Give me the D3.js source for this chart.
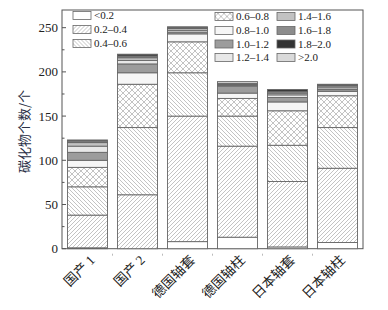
<!DOCTYPE html>
<html>
<head>
<meta charset="utf-8">
<script src="https://cdn.jsdelivr.net/npm/d3@7"></script>
<style>
  body { margin: 0; background: #fff; }
  svg { display: block; }
</style>
</head>
<body>
<svg id="chart" width="388" height="310"></svg>
<script>
// categories (bearing samples)
const categories = ["国产 1", "国产 2", "德国轴套", "德国轴柱", "日本轴套", "日本轴柱"];
// carbide size bins
const bins = ["<0.2", "0.2\u20130.4", "0.4\u20130.6", "0.6\u20130.8", "0.8\u20131.0", "1.0\u20131.2",
              "1.2\u20131.4", "1.4\u20131.6", "1.6\u20131.8", "1.8\u20132.0", ">2.0"];

// counts per bin, one value per category
const lt02   = [1, 0, 8, 13, 2, 7];
const b02_04 = [37, 61, 142, 103, 74, 84];
const b04_06 = [32, 76, 49, 34, 41, 46];
const b06_08 = [22, 49, 35, 20, 39, 36];
const b08_10 = [8, 13, 9, 6, 10, 5];
const b10_12 = [9, 10, 2, 8, 5, 2];
const b12_14 = [7, 4, 2, 1, 3, 2];
const b14_16 = [4, 3, 2, 1, 2, 2];
const b16_18 = [2, 2, 1, 1, 2, 1];
const b18_20 = [0, 2, 1, 0, 2, 1];
const gt20   = [1, 0, 0, 2, 0, 0];

const yTicks = [0, 50, 100, 150, 200, 250];

const series = [lt02, b02_04, b04_06, b06_08, b08_10, b10_12, b12_14, b14_16, b16_18, b18_20, gt20];

// build table for d3.stack
const table = categories.map((c, i) => {
    const row = { cat: c };
    bins.forEach((b, j) => row[b] = series[j][i]);
    return row;
});

const svg = d3.select("#chart");
const plotL = 62, plotR = 363, plotT = 10, plotB = 248.7;

const x = d3.scaleBand().domain(categories).range([plotL, plotR])
    .paddingInner(0.2).paddingOuter(0.11);
const y = d3.scaleLinear().domain([0, 270]).range([plotB, plotT]);

// patterns
const defs = svg.append("defs");
function hatch(id, d, size) {
    const p = defs.append("pattern").attr("id", id)
        .attr("patternUnits", "userSpaceOnUse")
        .attr("width", size).attr("height", size);
    p.append("rect").attr("width", size).attr("height", size).attr("fill", "#fff");
    p.append("path").attr("d", d).attr("stroke", "#9a9a9a")
        .attr("stroke-width", 0.6).attr("fill", "none");
}
hatch("fwd", "M0,4 L4,0 M-1,1 L1,-1 M3,5 L5,3", 4);
hatch("back", "M0,0 L4,4 M-1,3 L1,5 M3,-1 L5,1", 4);
hatch("cross", "M0,0 L6,6 M0,6 L6,0 M-1,1 L1,-1 M5,7 L7,5 M-1,5 L1,7 M5,-1 L7,1", 6);

const fills = ["#ffffff", "url(#fwd)", "url(#back)", "url(#cross)", "#f6f6f6", "#9c9c9c",
               "#e8e8e8", "#c2c2c2", "#8c8c8c", "#333333", "#dadada"];

const stack = d3.stack().keys(bins);
const layers = stack(table);

// frame
svg.append("rect")
    .attr("x", plotL).attr("y", plotT)
    .attr("width", plotR - plotL).attr("height", plotB - plotT)
    .attr("fill", "none").attr("stroke", "#555").attr("stroke-width", 1);

// bars
svg.append("g")
    .selectAll("g")
    .data(layers)
    .join("g")
    .attr("fill", (d, i) => fills[i])
    .selectAll("rect")
    .data(d => d.filter(s => s[1] > s[0]))
    .join("rect")
    .attr("x", d => x(d.data.cat))
    .attr("y", d => y(d[1]))
    .attr("width", x.bandwidth())
    .attr("height", d => y(d[0]) - y(d[1]))
    .attr("stroke", "#666")
    .attr("stroke-width", 0.9);

// y axis ticks (inward)
const yAxis = svg.append("g");
yAxis.selectAll("line.major")
    .data(yTicks)
    .join("line")
    .attr("class", "major")
    .attr("x1", plotL).attr("x2", plotL + 4)
    .attr("y1", d => y(d)).attr("y2", d => y(d))
    .attr("stroke", "#555");
yAxis.selectAll("line.minor")
    .data(d3.range(25, 270, 50))
    .join("line")
    .attr("class", "minor")
    .attr("x1", plotL).attr("x2", plotL + 2.5)
    .attr("y1", d => y(d)).attr("y2", d => y(d))
    .attr("stroke", "#555");
yAxis.selectAll("text")
    .data(yTicks)
    .join("text")
    .attr("x", plotL - 4)
    .attr("y", d => y(d))
    .attr("dy", "0.35em")
    .attr("text-anchor", "end")
    .attr("font-family", "Liberation Serif, serif")
    .attr("font-size", 13)
    .attr("fill", "#222")
    .text(d => d);

// x minor ticks between categories
svg.append("g").selectAll("line")
    .data(categories.slice(1))
    .join("line")
    .attr("x1", d => x(d) - x.step() * x.paddingInner() / 2)
    .attr("x2", d => x(d) - x.step() * x.paddingInner() / 2)
    .attr("y1", plotB + 5).attr("y2", plotB + 7)
    .attr("stroke", "#bbb");

// x labels
svg.append("g").selectAll("text")
    .data(categories)
    .join("text")
    .attr("transform", d => `translate(${x(d) + x.bandwidth() / 2 + 5},${plotB + 9}) rotate(-45)`)
    .attr("text-anchor", "end")
    .attr("dy", "0.35em")
    .attr("font-family", "Liberation Serif, Noto Sans CJK SC, serif")
    .attr("font-size", 13.5)
    .attr("fill", "#222")
    .text(d => d);

// y label
svg.append("text")
    .attr("transform", `translate(24,${(plotT + plotB) / 2 + 2}) rotate(-90)`)
    .attr("text-anchor", "middle")
    .attr("dy", "0.35em")
    .attr("font-family", "Noto Sans CJK SC, sans-serif")
    .attr("font-size", 13)
    .attr("fill", "#2a2f45")
    .text("碳化物个数/个");

// legend
const legendPos = [
    [73, 15.5], [73, 29.5], [73, 43.5],
    [215, 16.5], [215, 30.5], [215, 44], [215, 57.5],
    [277, 16.5], [277, 30.5], [277, 44], [277, 57.5]
];
const legend = svg.append("g").selectAll("g")
    .data(bins)
    .join("g")
    .attr("transform", (d, i) => `translate(${legendPos[i][0]},${legendPos[i][1]})`);
legend.append("rect")
    .attr("x", 0).attr("y", -4)
    .attr("width", 18).attr("height", 8)
    .attr("fill", (d, i) => fills[i])
    .attr("stroke", "#666").attr("stroke-width", 0.8);
legend.append("text")
    .attr("x", 21).attr("dy", "0.35em")
    .attr("font-family", "Liberation Serif, serif")
    .attr("font-size", 11)
    .attr("fill", "#222")
    .text(d => d);
</script>
</body>
</html>
